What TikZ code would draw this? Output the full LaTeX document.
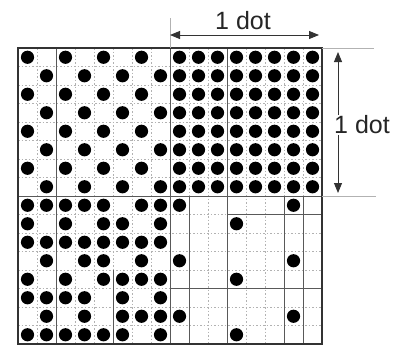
\documentclass[tikz,border=0pt]{standalone}
\usepackage{fontspec}
\setmainfont{Liberation Sans}
\usetikzlibrary{arrows.meta}
\begin{document}
\begin{tikzpicture}[x=1pt,y=-1pt,
  gridfine/.style={gray!60,line width=0.45pt,dash pattern=on 1.5pt off 2pt},
  gridsolid/.style={black!65,line width=1pt},
  frame/.style={black!80,line width=1.3pt},
  dotfill/.style={fill=black},
  dimline/.style={black!80,line width=0.9pt,{Triangle[length=10pt,width=8pt]}-{Triangle[length=10pt,width=8pt]}},
  extline/.style={gray!60,line width=0.5pt},
  lbl/.style={font=\fontsize{25}{27}\selectfont,text=black!85,inner sep=1pt}]
\useasboundingbox (0,0) rectangle (395,357);
\def\xo{18}\def\yo{48}\def\px{19}\def\py{18.5}
% fine grid
\foreach \i in {1,...,15}{
  \draw[gridfine] (\xo+\i*\px,\yo) -- (\xo+\i*\px,\yo+16*\py);
  \draw[gridfine] (\xo,\yo+\i*\py) -- (\xo+16*\px,\yo+\i*\py);
}
% dots
\foreach \r in {0,2,4,6}{\foreach \c in {0,2,4,6,8,9,10,11,12,13,14,15}{\fill[dotfill] (\xo+\c*\px+9.5,\yo+\r*\py+9.25) circle (6.6);}}
\foreach \r in {1,3,5,7}{\foreach \c in {1,3,5,7,8,9,10,11,12,13,14,15}{\fill[dotfill] (\xo+\c*\px+9.5,\yo+\r*\py+9.25) circle (6.6);}}
\foreach \r/\cs in {8/{0,1,2,3,4,6,7,8,14},9/{0,2,4,5,7,11},10/{0,1,2,3,4,5,6,7},11/{1,3,4,6,8,14},12/{0,2,4,5,6,7,11},13/{0,1,2,3,5,7},14/{1,3,5,6,7,8,14},15/{0,1,2,3,4,5,7,11}}{
  \foreach \c in \cs {\fill[dotfill] (\xo+\c*\px+9.5,\yo+\r*\py+9.25) circle (6.6);}
}
% solid division lines
\coordinate (tl) at (\xo,\yo);
\coordinate (br) at (\xo+16*\px,\yo+16*\py);
\draw[gridsolid] (\xo+2*\px,\yo) -- (\xo+2*\px,\yo+16*\py);
\draw[gridsolid] (\xo+8*\px,\yo) -- (\xo+8*\px,\yo+16*\py);
\draw[gridsolid] (\xo+11*\px,\yo) -- (\xo+11*\px,\yo+16*\py);
\draw[gridsolid] (\xo,\yo+8*\py) -- (\xo+16*\px,\yo+8*\py);
\draw[gridsolid] (\xo+5*\px,\yo+12*\py) -- (\xo+5*\px,\yo+16*\py);
\draw[gridsolid] (\xo+9*\px,\yo+8*\py) -- (\xo+9*\px,\yo+16*\py);
\draw[gridsolid] (\xo+14*\px,\yo+8*\py) -- (\xo+14*\px,\yo+16*\py);
\draw[gridsolid] (\xo+15*\px,\yo+8*\py) -- (\xo+15*\px,\yo+16*\py);
\draw[gridsolid] (\xo+11*\px,\yo+9*\py) -- (\xo+16*\px,\yo+9*\py);
\draw[gridsolid] (\xo+8*\px,\yo+13*\py) -- (\xo+16*\px,\yo+13*\py);
\draw[frame] (tl) rectangle (br);
% dimension: top
\coordinate (ha) at (170,35);
\coordinate (hb) at (319,35);
\coordinate (hx1) at (170,18);
\coordinate (hx2) at (170,48);
\draw[extline] (hx1) -- (hx2);
\draw[dimline] (ha) -- (hb);
\node[lbl,fill=white] (toplbl) at (243,21) {1 dot};
% dimension: right
\coordinate (e1a) at (322,48);
\coordinate (e1b) at (374,48);
\coordinate (e2a) at (322,196);
\coordinate (e2b) at (376,196);
\draw[extline] (e1a) -- (e1b);
\draw[extline] (e2a) -- (e2b);
\coordinate (va) at (338,52);
\coordinate (vb) at (338,193);
\draw[dimline] (va) -- (vb);
\node[lbl,fill=white,inner xsep=0pt] (rightlbl) at (362,125) {1 dot};
\end{tikzpicture}
\end{document}
